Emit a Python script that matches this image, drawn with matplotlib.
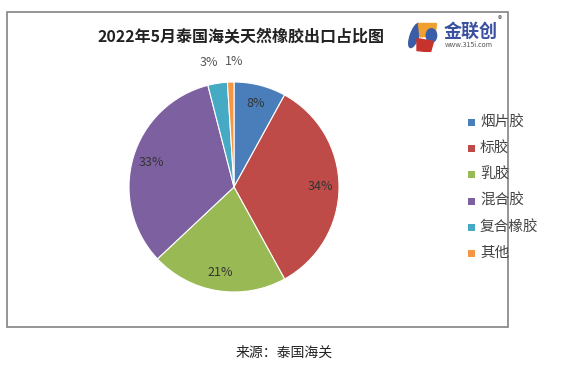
import numpy as np
import matplotlib
matplotlib.use("Agg")
import matplotlib.pyplot as plt
from matplotlib.patches import Rectangle, Ellipse, Polygon

plt.rcParams["font.family"] = ["Noto Sans CJK SC", "DejaVu Sans"]

title = "2022年5月泰国海关天然橡胶出口占比图"
categories = ["烟片胶", "标胶", "乳胶", "混合胶", "复合橡胶", "其他"]
shares = [8, 34, 21, 33, 3, 1]
colors = ["#4A7EBB", "#BE4B48", "#98B954", "#7D60A0", "#46AAC4", "#F59645"]
source = "来源：泰国海关"

W, H = 569, 369
fig = plt.figure(figsize=(W / 100, H / 100), dpi=100)


def px(x, y):
    return x / W, 1 - y / H


# chart frame
fig.patches.append(Rectangle(px(7, 327), 501 / W, 315 / H, transform=fig.transFigure,
                             fill=False, edgecolor="#8c8c8c", linewidth=1.3))

# pie
cx, cy, r = 234, 187, 105
ax = fig.add_axes([(cx - r) / W, 1 - (cy + r) / H, 2 * r / W, 2 * r / H])
wedges, _ = ax.pie(shares, colors=colors, startangle=90, counterclock=False,
                   wedgeprops=dict(edgecolor="white", linewidth=0.8))
ax.set_xlim(-1, 1)
ax.set_ylim(-1, 1)
ax.set_aspect("equal")
ax.axis("off")

small_i = 0
for w, v in zip(wedges, shares):
    mid = np.deg2rad((w.theta1 + w.theta2) / 2)
    if v > 5:
        ax.text(0.82 * np.cos(mid), 0.82 * np.sin(mid), f"{v}%", ha="center", va="center",
                fontsize=9, color="#333333")
    else:
        # small slices: labels outside, spread apart so they don't collide
        shift = -4 if small_i == 0 else 3
        small_i += 1
        ax.annotate(f"{v}%", (1.2 * np.cos(mid), 1.2 * np.sin(mid)), xytext=(shift, 0),
                    textcoords="offset points", ha="center", va="center",
                    fontsize=9, color="#555555", annotation_clip=False)

# legend
for i, (lab, c) in enumerate(zip(categories, colors)):
    y = 122 + i * 26.2
    fig.patches.append(Rectangle(px(468, y + 4), 7 / W, 7 / H, transform=fig.transFigure,
                                 facecolor=c, edgecolor="none"))
    fig.text(*px(480, y), lab, fontsize=10.5, color="#444444", va="center", ha="left")

# title
fig.text(*px(241, 37), title, fontsize=11.5, fontweight="bold", color="#222222",
         ha="center", va="center")

# logo
lax = fig.add_axes([408 / W, 1 - 52 / H, 30 / W, 30 / H])
lax.set_xlim(0, 1)
lax.set_ylim(0, 1)
lax.axis("off")
lax.add_patch(Ellipse((0.22, 0.55), 0.28, 0.85, angle=-20, color="#3A5DA8"))
lax.add_patch(Polygon([[0.35, 0.95], [0.95, 0.95], [0.9, 0.55], [0.4, 0.5]], color="#F0A030"))
lax.add_patch(Ellipse((0.78, 0.55), 0.35, 0.45, color="#3A5DA8"))
lax.add_patch(Polygon([[0.3, 0.45], [0.85, 0.35], [0.75, 0.0], [0.3, 0.05]], color="#C8322D"))
fig.text(*px(444, 31), "金联创", fontsize=13, fontweight="bold", color="#3A4FA0",
         ha="left", va="center")
fig.text(*px(445, 45), "www.315i.com", fontsize=5, color="#555555", ha="left", va="center")
fig.text(*px(500, 20), "®", fontsize=6, color="#555555", ha="center", va="center")

# source
fig.text(*px(284, 353), source, fontsize=10, color="#222222", ha="center", va="center")

fig.savefig("out.png", dpi=100, facecolor="white")
